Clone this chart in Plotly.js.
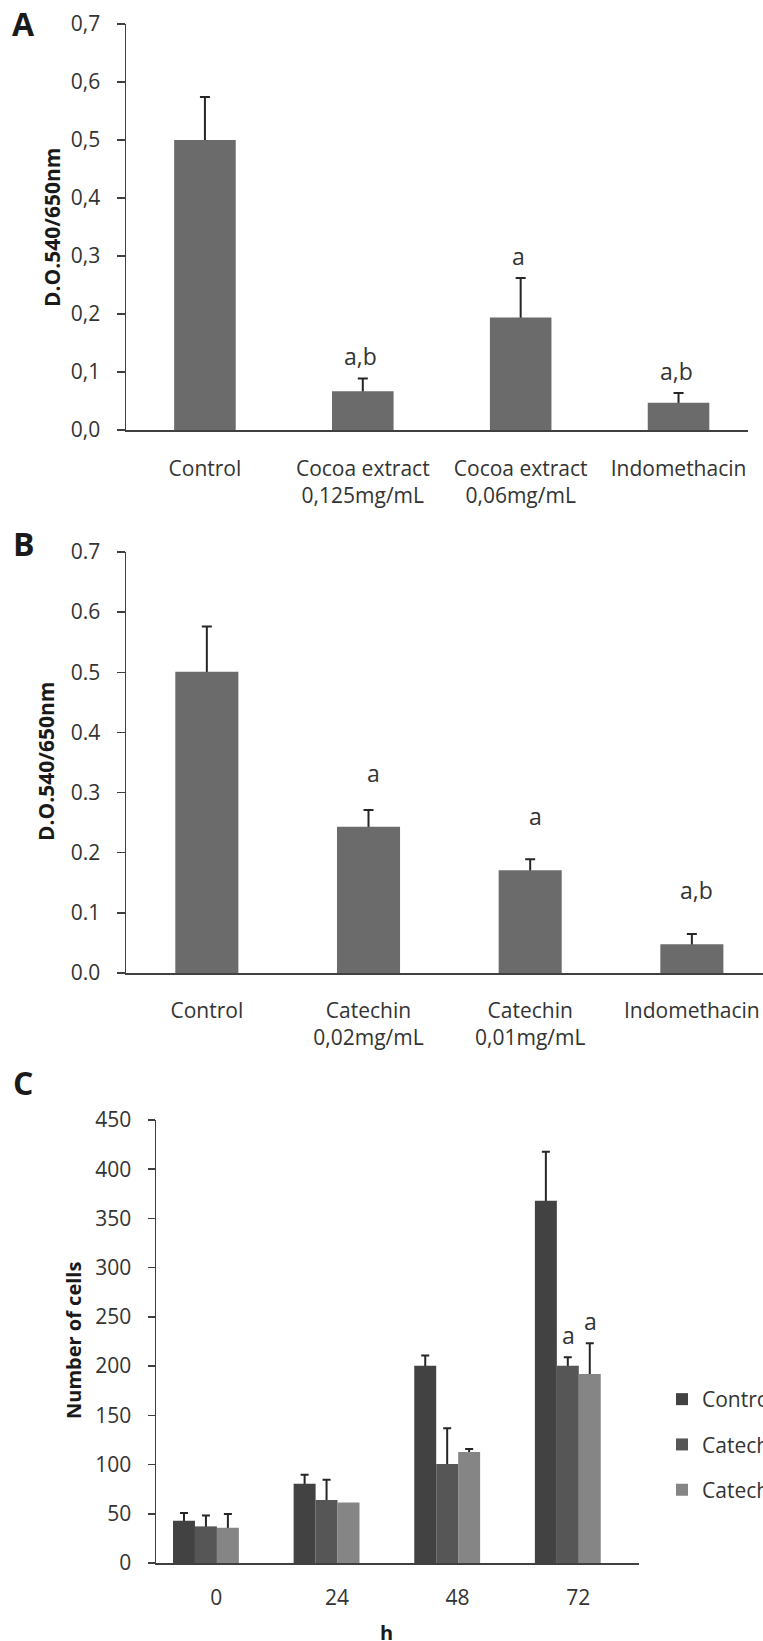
<!DOCTYPE html>
<html>
<head>
<meta charset="utf-8">
<script src="https://cdn.plot.ly/plotly-3.0.1.min.js"></script>
<style>
html, body { margin: 0; padding: 0; background: #ffffff; }
#chart { width: 763px; height: 1641px; }
</style>
</head>
<body>
<div id="chart"></div>
<script>
// ---------- DATA ----------
// Panel A
const catsA = ["Control", "Cocoa extract<br>0,125mg/mL", "Cocoa extract<br>0,06mg/mL", "Indomethacin"];
const valsA = [0.500, 0.067, 0.194, 0.047];
const errA  = [0.074, 0.022, 0.068, 0.017];
const sigA  = ["", "a,b", "a", "a,b"];
const tickValsA = [0, 0.1, 0.2, 0.3, 0.4, 0.5, 0.6, 0.7];
const tickTextA = ["0,0", "0,1", "0,2", "0,3", "0,4", "0,5", "0,6", "0,7"];

// Panel B
const catsB = ["Control", "Catechin<br>0,02mg/mL", "Catechin<br>0,01mg/mL", "Indomethacin"];
const valsB = [0.501, 0.243, 0.171, 0.048];
const errB  = [0.075, 0.028, 0.018, 0.017];
const sigB  = ["", "a", "a", "a,b"];
const tickValsB = [0, 0.1, 0.2, 0.3, 0.4, 0.5, 0.6, 0.7];
const tickTextB = ["0.0", "0.1", "0.2", "0.3", "0.4", "0.5", "0.6", "0.7"];

// Panel C
const hoursC = ["0", "24", "48", "72"];
const seriesNamesC = ["Control", "Catechin 0,02mg/mL", "Catechin 0,01mg/mL"];
const controlC    = [43.0, 80.5, 200.3, 368.0];
const controlErrC = [7.8, 9.1, 10.4, 49.8];
const cat002C     = [37.2, 63.9, 100.5, 200.3];
const cat002ErrC  = [11.1, 20.6, 36.5, 8.7];
const cat001C     = [35.8, 61.5, 112.7, 192.1];
const cat001ErrC  = [13.9, null, 3.0, 31.2];
const sigControlC = ["", "", "", ""];
const sig002C     = ["", "", "", "a"];
const sig001C     = ["", "", "", "a"];
const tickValsC = [0, 50, 100, 150, 200, 250, 300, 350, 400, 450];

// ---------- STYLE / LAYOUT ----------
const W = 763, H = 1641;
const px = v => v / W;
const py = v => 1 - v / H;
const FONT = "'Open Sans', 'DejaVu Sans', sans-serif";
const TXT = "#333333";
const AXC = "#404040";
const barGrey = "#6b6b6b";
const colorsC = ["#424242", "#565656", "#858585"];

const traces = [];
function addBars(opts) {
  // error bar goes up only; its foot is tucked just under the bar top and hidden by the bar drawn after it
  const plus = opts.err.map(e => (e == null ? NaN : e + opts.foot));
  const minus = opts.err.map(e => (e == null ? NaN : 0));
  const base = {
    type: "bar", x: opts.x, y: opts.y, xaxis: opts.xa, yaxis: opts.ya,
    width: opts.width, marker: { color: opts.color, line: { width: 0 } },
    hoverinfo: "skip"
  };
  if (opts.offset !== undefined) base.offset = opts.offset;
  traces.push(Object.assign({}, base, {
    y: opts.y.map(v => v - opts.foot),
    base: opts.y.map(() => 0),
    marker: { color: "rgba(0,0,0,0)", line: { width: 0 } },
    showlegend: false,
    error_y: { type: "data", symmetric: false, array: plus, arrayminus: minus,
               color: "#262626", thickness: 2, width: opts.capw }
  }));
  traces.push(Object.assign({}, base, {
    name: opts.name || "", showlegend: !!opts.legend, legendgroup: opts.name || ""
  }));
}

addBars({ x: catsA, y: valsA, err: errA, xa: "x", ya: "y", width: 0.39, color: barGrey, capw: 5, foot: 0.003 });
addBars({ x: catsB, y: valsB, err: errB, xa: "x2", ya: "y2", width: 0.39, color: barGrey, capw: 5, foot: 0.003 });

const seriesC = [
  { y: controlC, err: controlErrC, sig: sigControlC },
  { y: cat002C,  err: cat002ErrC,  sig: sig002C },
  { y: cat001C,  err: cat001ErrC,  sig: sig001C }
];
const wC = 0.182, startC = -0.359;
seriesC.forEach((s, i) => {
  addBars({ x: hoursC, y: s.y, err: s.err, xa: "x3", ya: "y3", width: wC,
            offset: startC + i * wC, color: colorsC[i], capw: 4, foot: 2,
            name: seriesNamesC[i], legend: true });
});

// ---------- ANNOTATIONS ----------
const annotations = [];
const sigFont = { family: FONT, size: 23, color: TXT };
function sigAnn(vals, errs, sig, xref, yref, useErr, yshift, xshift, xoff) {
  sig.forEach((t, i) => {
    if (!t) return;
    const top = vals[i] + (useErr ? (errs[i] || 0) : 0);
    annotations.push({ text: t, xref: xref, yref: yref, x: i + (xoff || 0), y: top,
      xanchor: "center", yanchor: "middle", yshift: yshift, xshift: xshift,
      showarrow: false, font: sigFont });
  });
}
sigAnn(valsA, errA, sigA, "x", "y", true, 22, -2, 0);
sigAnn(valsB, errB, sigB, "x2", "y2", false, 54, 5, 0);
seriesC.forEach((s, i) => {
  sigAnn(s.y, s.err, s.sig, "x3", "y3", true, 22, 1, startC + i * wC + wC / 2);
});

function paperText(text, x, y, size, bold, angle) {
  annotations.push({ text: bold ? "<b>" + text + "</b>" : text, xref: "paper", yref: "paper",
    x: px(x), y: py(y), xanchor: "center", yanchor: "middle", showarrow: false,
    textangle: angle || 0, font: { family: FONT, size: size, color: "#1a1a1a" } });
}
paperText("A", 24, 24, 32, true);
paperText("B", 24, 543, 32, true);
paperText("C", 23, 1082, 32, true);
paperText("D.O.540/650nm", 52, 228, 21, true, -90);
paperText("D.O.540/650nm", 46, 762, 21, true, -90);
paperText("Number of cells", 73, 1341, 20, true, -90);
paperText("h", 386.5, 1632, 20, true);

// ---------- AXES ----------
const lineAx = { showline: true, linecolor: AXC, linewidth: 1.5, zeroline: false, showgrid: false, fixedrange: true };
const xCat = Object.assign({}, lineAx, { type: "category", ticks: "", tickfont: { family: FONT, size: 21, color: TXT } });
const yNum = Object.assign({}, lineAx, { ticks: "outside", tickcolor: AXC, tickwidth: 1.5, tickfont: { family: FONT, size: 21, color: TXT } });

const layout = {
  width: W, height: H,
  margin: { l: 0, r: 0, t: 0, b: 0, pad: 0, autoexpand: false },
  paper_bgcolor: "#ffffff", plot_bgcolor: "rgba(0,0,0,0)",
  font: { family: FONT, color: TXT, size: 20 },
  barmode: "overlay",
  showlegend: true,
  legend: { x: px(662), xanchor: "left", y: py(1379), yanchor: "top",
            bgcolor: "rgba(0,0,0,0)", borderwidth: 0,
            font: { family: FONT, size: 21, color: TXT },
            traceorder: "grouped", tracegroupgap: 15, itemwidth: 30 },
  xaxis:  Object.assign({}, xCat, { domain: [px(126), px(748)], anchor: "y",  range: [-0.5, 3.44], ticklabelstandoff: 19 }),
  yaxis:  Object.assign({}, yNum, { domain: [py(430), py(24)], anchor: "x",  range: [0, 0.7],
            tickvals: tickValsA, ticktext: tickTextA, ticklen: 8, ticklabelstandoff: 12 }),
  xaxis2: Object.assign({}, xCat, { domain: [px(126), 1], anchor: "y2", range: [-0.5, 3.44], ticklabelstandoff: 18 }),
  yaxis2: Object.assign({}, yNum, { domain: [py(973), py(552)], anchor: "x2", range: [0, 0.7],
            tickvals: tickValsB, ticktext: tickTextB, ticklen: 8, ticklabelstandoff: 12 }),
  xaxis3: Object.assign({}, xCat, { domain: [px(156), px(638.5)], anchor: "y3", range: [-0.5, 3.5], ticklabelstandoff: 15 }),
  yaxis3: Object.assign({}, yNum, { domain: [py(1563), py(1120)], anchor: "x3", range: [0, 450],
            tickvals: tickValsC, ticklen: 7, ticklabelstandoff: 12 }),
  annotations: annotations
};

Plotly.newPlot("chart", traces, layout, { staticPlot: true, displayModeBar: false });
</script>
</body>
</html>
